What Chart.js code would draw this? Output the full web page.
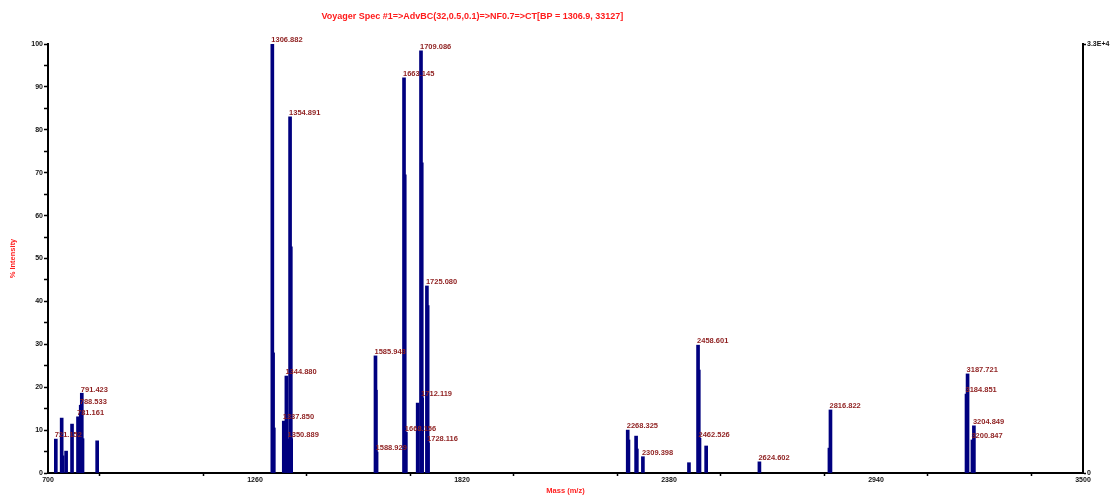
<!DOCTYPE html>
<html>
<head>
<meta charset="utf-8">
<script src="https://cdn.jsdelivr.net/npm/chart.js@4.4.1/dist/chart.umd.min.js"></script>
<style>
  html,body{margin:0;padding:0;background:#fff;}
  canvas{display:block;}
</style>
</head>
<body>
<canvas id="spectrum" width="1113" height="495"></canvas>
<script>
// peaks: mass (m/z), % intensity, label ('' = no label)
const peakMass = [
  721.152, 737.0, 739.5, 749.0, 765.0, 781.161, 788.533, 791.423, 793.4, 833.0,
  1306.882, 1308.9, 1310.9, 1337.850, 1344.880, 1350.889, 1354.891, 1356.9, 1357.9,
  1585.948, 1587.0, 1588.929, 1663.145, 1665.1, 1668.156, 1700.1, 1709.086, 1711.1, 1712.119,
  1725.080, 1727.1, 1728.116,
  2268.325, 2270.3, 2291.0, 2293.0, 2309.398, 2434.0, 2458.601, 2460.6, 2462.526, 2480.5,
  2624.602, 2814.0, 2816.822, 3184.851, 3187.721, 3200.847, 3204.849
];
const peakIntensity = [
  7.9, 12.8, 4.0, 5.1, 11.4, 13.1, 15.8, 18.6, 8.0, 7.5,
  100, 28, 10.5, 12.1, 22.6, 7.9, 83.0, 52.7, 8.0,
  27.3, 19.3, 4.9, 92.1, 69.5, 9.5, 16.3, 98.4, 72.3, 17.5,
  43.6, 39.0, 7.0,
  10.0, 7.7, 8.6, 5.6, 3.8, 2.4, 29.8, 24.0, 8.1, 6.3,
  2.6, 5.8, 14.7, 18.4, 23.1, 7.7, 11.0
];
const peakLabel = [
  '721.152', '', '', '', '', '781.161', '788.533', '791.423', '', '',
  '1306.882', '', '', '1337.850', '1344.880', '1350.889', '1354.891', '', '',
  '1585.948', '', '1588.929', '1663.145', '', '1668.156', '', '1709.086', '', '1712.119',
  '1725.080', '', '1728.116',
  '2268.325', '', '', '', '2309.398', '', '2458.601', '', '2462.526', '',
  '2624.602', '', '2816.822', '3184.851', '3187.721', '3200.847', '3204.849'
];

const massMin = 700, massMax = 3500;
const majorStep = 560, minorStep = 280;
const basePeakCounts = 33127;
const titleText = 'Voyager Spec #1=>AdvBC(32,0.5,0.1)=>NF0.7=>CT[BP = 1306.9, 33127]';

const FONT = '"Liberation Sans", Arial, sans-serif';

let points = [];
for (let i = 0; i < peakMass.length; i++) {
  points.push({x: peakMass[i], y: peakIntensity[i]});
}

/* peak labels + title */
const peakLabels = {
  id: 'peakLabels',
  afterDatasetsDraw(chart) {
    const ctx = chart.ctx;
    const xs = chart.scales.x, ys = chart.scales.y;
    ctx.save();
    ctx.font = 'bold 7.5px ' + FONT;
    ctx.fillStyle = '#8e1f1f';
    ctx.textAlign = 'left';
    ctx.textBaseline = 'bottom';
    for (let i = 0; i < peakMass.length; i++) {
      if (!peakLabel[i]) continue;
      let px = xs.getPixelForValue(peakMass[i]);
      let py = ys.getPixelForValue(peakIntensity[i]);
      ctx.fillText(peakLabel[i], px - 1, py);
    }
    // title
    const a = chart.chartArea;
    ctx.font = 'bold 9px ' + FONT;
    ctx.fillStyle = '#ff1a1a';
    ctx.textAlign = 'center';
    ctx.textBaseline = 'middle';
    ctx.fillText(titleText, a.left + a.width * 0.41, 17);
    ctx.restore();
  }
};

const tickFont = {family: FONT, size: 7, weight: 'bold'};

new Chart(document.getElementById('spectrum').getContext('2d'), {
  type: 'bar',
  data: {
    datasets: [{
      data: points,
      backgroundColor: '#00007f',
      borderWidth: 0,
      barThickness: 3
    }]
  },
  options: {
    responsive: false,
    animation: false,
    devicePixelRatio: 1,
    layout: {padding: {top: 44, left: 0, right: 0, bottom: 0}},
    plugins: {
      legend: {display: false},
      tooltip: {enabled: false}
    },
    scales: {
      x: {
        type: 'linear',
        min: massMin,
        max: massMax,
        offset: false,
        afterFit: s => { s.height = 22; },
        border: {display: true, color: '#000', width: 2},
        grid: {drawOnChartArea: false, tickLength: 3, color: '#000', tickWidth: 1.5},
        ticks: {
          stepSize: minorStep,
          maxRotation: 0,
          autoSkip: false,
          padding: 0,
          color: '#111',
          font: tickFont,
          callback: v => ((v - massMin) % majorStep === 0 ? v : '')
        },
        title: {
          display: true,
          text: 'Mass (m/z)',
          color: '#ff2020',
          font: {family: FONT, size: 7.5, weight: 'bold'},
          padding: {top: 0, bottom: 0}
        }
      },
      y: {
        min: 0,
        max: 100,
        afterFit: s => { s.width = 48; },
        border: {display: true, color: '#000', width: 2},
        grid: {drawOnChartArea: false, tickLength: 4, color: '#000', tickWidth: 1.5},
        ticks: {
          stepSize: 5,
          padding: 1,
          color: '#111',
          font: tickFont,
          callback: v => (v % 10 === 0 ? v : '')
        },
        title: {
          display: true,
          text: '% Intensity',
          color: '#ff2020',
          font: {family: FONT, size: 7.5, weight: 'bold'},
          padding: {top: 8, bottom: 0}
        }
      },
      y2: {
        position: 'right',
        min: 0,
        max: basePeakCounts,
        afterFit: s => { s.width = 30; },
        afterBuildTicks: s => { s.ticks = [{value: 0}, {value: basePeakCounts}]; },
        border: {display: true, color: '#000', width: 2},
        grid: {drawOnChartArea: false, tickLength: 3, color: '#000', tickWidth: 1.5},
        ticks: {
          padding: 1,
          color: '#111',
          font: tickFont,
          callback: v => (v === 0 ? '0' : '3.3E+4')
        }
      }
    }
  },
  plugins: [peakLabels]
});
</script>
</body>
</html>
